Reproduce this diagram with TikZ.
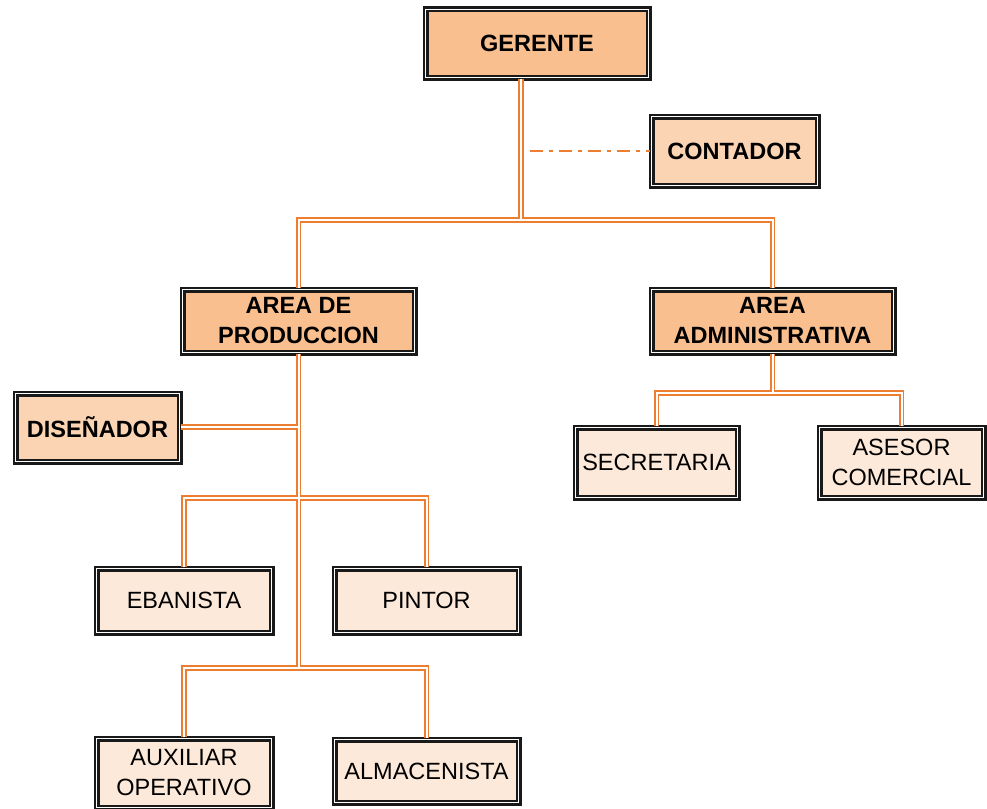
\documentclass[tikz,border=0pt]{standalone}
\usepackage{fontspec}
\setmainfont{Liberation Sans}
\usetikzlibrary{calc}
\definecolor{lvA}{HTML}{F9BF8F}
\definecolor{lvB}{HTML}{FBD4B4}
\definecolor{lvC}{HTML}{FDE9D9}
\definecolor{orln}{HTML}{ED7D31}
\begin{document}
\begin{tikzpicture}[x=1pt,y=-1pt,
  box/.style={draw=black!90,line width=2.2pt,double=white,double distance=1.6pt,
    align=center,inner sep=0pt,font=\fontsize{23.5}{30}\selectfont},
  bbox/.style={box,font=\fontsize{23.5}{30}\selectfont\bfseries},
  conn/.style={draw=orln,line width=1.6pt,double=white,double distance=2pt},
  dconn/.style={draw=orln,line width=2pt,dash pattern=on 13pt off 6pt on 4pt off 6pt}]
\useasboundingbox (0,0) rectangle (987,808);
\node[bbox,fill=lvA,minimum width=223,minimum height=68] (ger) at (537,43.5) {GERENTE};
\node[bbox,fill=lvB,minimum width=166,minimum height=69] (cont) at (734.5,151) {CONTADOR};
\node[bbox,fill=lvA,minimum width=232,minimum height=63] (prod) at (298.5,321) {AREA DE\\PRODUCCION};
\node[bbox,fill=lvA,minimum width=242,minimum height=63] (adm) at (772.5,321) {AREA\\ADMINISTRATIVA};
\node[bbox,fill=lvB,minimum width=164,minimum height=68] (dis) at (97.5,427.5) {DISEÑADOR};
\node[box,fill=lvC,minimum width=162,minimum height=70] (sec) at (656.5,462.5) {SECRETARIA};
\node[box,fill=lvC,minimum width=164,minimum height=70] (ase) at (901.5,462.5) {ASESOR\\COMERCIAL};
\node[box,fill=lvC,minimum width=175,minimum height=64] (eba) at (184,600.5) {EBANISTA};
\node[box,fill=lvC,minimum width=184,minimum height=64] (pin) at (426.5,600.5) {PINTOR};
\node[box,fill=lvC,minimum width=175,minimum height=69] (aux) at (184,773) {AUXILIAR\\OPERATIVO};
\node[box,fill=lvC,minimum width=184,minimum height=63] (alm) at (426.5,771) {ALMACENISTA};
\coordinate (gx) at ($(ger.south)+(-16,0)$);
\coordinate (dstart) at (530,151);
\draw[dconn] (dstart) -- (cont.west);
\draw[conn]
  (gx) -- (gx|-0,220) -| (adm.north)
  (gx|-0,220) -| (prod.north)
  (prod.south) -- (prod.south|-0,668)
  (dis.east|-0,427) -- (prod.south|-0,427)
  (eba.north) |- (prod.south|-0,498) -| (pin.north)
  (aux.north) |- (prod.south|-0,668) -| (alm.north)
  (adm.south) -- (adm.south|-0,393)
  (sec.north) |- (adm.south|-0,393) -| (ase.north);
\end{tikzpicture}
\end{document}
